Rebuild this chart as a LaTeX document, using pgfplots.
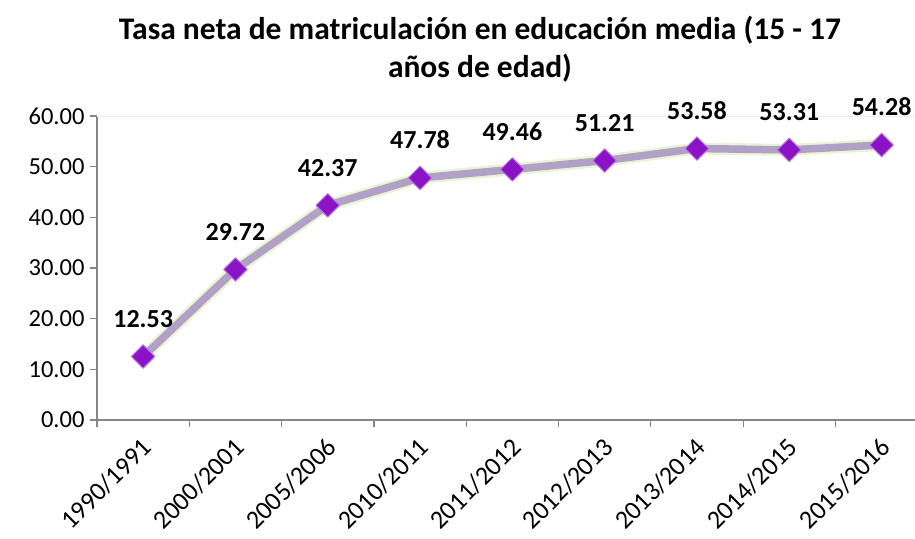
\documentclass[border=0pt]{standalone}
\usepackage{fontspec}
\setmainfont{Carlito}
\usepackage{pgfplots}
\pgfplotsset{compat=1.18}
\definecolor{linec}{RGB}{178,161,199}
\definecolor{markc}{RGB}{140,18,200}
\definecolor{markb}{RGB}{180,120,220}
\definecolor{axc}{RGB}{134,134,134}
\definecolor{glow}{RGB}{232,244,212}
\begin{document}
\begin{tikzpicture}[x=1pt,y=1pt]
\useasboundingbox (0,0) rectangle (915,538);
\node[align=center, font=\bfseries\fontsize{31.5}{38}\selectfont] at (480,489) {Tasa neta de matriculación en educación media (15 - 17\\años de edad)};
\begin{axis}[
  at={(97pt,118pt)}, anchor=south west,
  scale only axis, width=818pt, height=304pt,
  xmin=-0.5, xmax=8.362, ymin=0, ymax=60,
  axis x line*=bottom, axis y line*=left,
  axis line style={axc, line width=1.6pt},
  xtick={-0.5,0.5,...,7.5}, xticklabels={},
  extra x ticks={0,1,2,3,4,5,6,7,8},
  extra x tick labels={1990/1991,2000/2001,2005/2006,2010/2011,2011/2012,2012/2013,2013/2014,2014/2015,2015/2016},
  extra x tick style={major tick length=0pt, tick label style={rotate=45, anchor=north east, inner sep=1pt, xshift=-12.5pt, yshift=-8.5pt}},
  ytick={0,10,...,60},
  tick align=outside, major tick length=7pt,
  tick style={axc, line width=1.2pt},
  /pgf/number format/assume math mode=true,
  yticklabel style={font=\fontsize{24.5}{24.5}\selectfont, xshift=-2pt, /pgf/number format/fixed, /pgf/number format/fixed zerofill, /pgf/number format/precision=2},
  xticklabel style={font=\fontsize{26}{26}\selectfont},
  clip=false,
]
\draw[gray!12, line width=1pt] (axis cs:-0.5,60) -- (axis cs:8.362,60);
\addplot[glow, line width=12pt, line join=round, forget plot] coordinates {
(0,12.53) (1,29.72) (2,42.37) (3,47.78) (4,49.46) (5,51.21) (6,53.58) (7,53.31) (8,54.28)};
\addplot[linec, line width=7.5pt, line join=round, mark=square*, mark size=8.3pt,
  mark options={rotate=45, fill=markc, draw=markb, line width=1pt},
  nodes near coords,
  nodes near coords style={black, font=\bfseries\fontsize{26}{26}\selectfont, anchor=south, yshift=25pt, /pgf/number format/fixed, /pgf/number format/fixed zerofill, /pgf/number format/precision=2}] coordinates {
(0,12.53) (1,29.72) (2,42.37) (3,47.78) (4,49.46) (5,51.21) (6,53.58) (7,53.31) (8,54.28)};
\end{axis}
\end{tikzpicture}
\end{document}
